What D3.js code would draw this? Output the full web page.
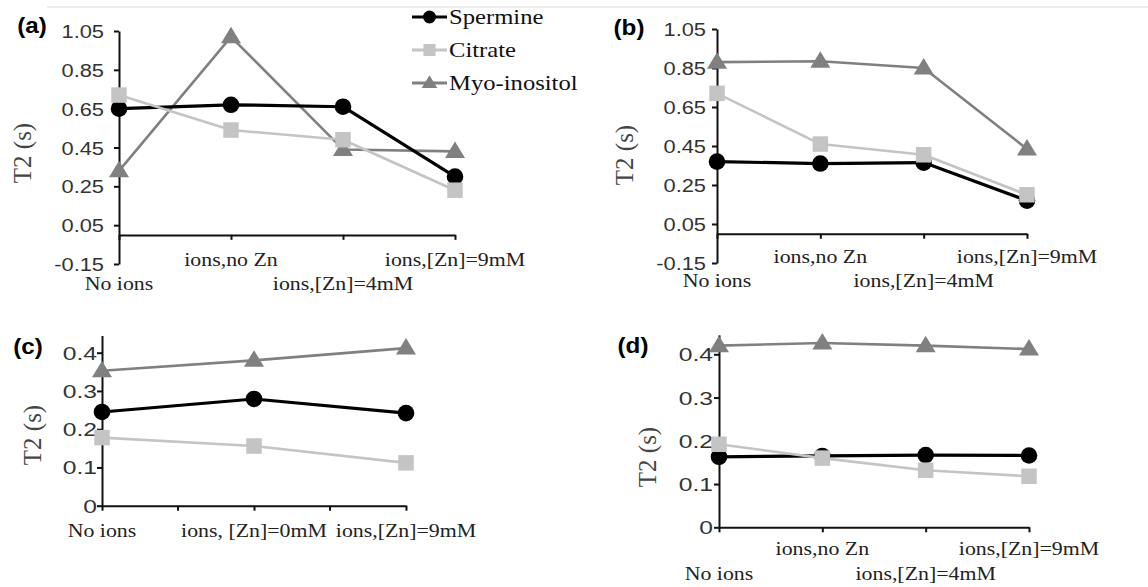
<!DOCTYPE html>
<html>
<head>
<meta charset="utf-8">
<script src="https://cdn.jsdelivr.net/npm/d3@7"></script>
<style>
  body { margin: 0; background: #fff; }
  svg { display: block; }
</style>
</head>
<body>
<svg id="chart" width="1148" height="587"></svg>
<script>
// categories
var categories4 = ["No ions", "ions,no Zn", "ions,[Zn]=4mM", "ions,[Zn]=9mM"];
var categories3 = ["No ions", "ions, [Zn]=0mM", "ions,[Zn]=9mM"];
var seriesNames = ["Spermine", "Citrate", "Myo-inositol"];

// panel (a)
var spermineA = [0.65, 0.67, 0.66, 0.30];
var citrateA = [0.72, 0.54, 0.49, 0.23];
var myoA = [0.33, 1.02, 0.44, 0.43];
// panel (b)
var spermineB = [0.37, 0.36, 0.365, 0.17];
var citrateB = [0.72, 0.46, 0.405, 0.20];
var myoB = [0.88, 0.885, 0.85, 0.435];
// panel (c)
var spermineC = [0.245, 0.279, 0.242];
var citrateC = [0.178, 0.156, 0.112];
var myoC = [0.353, 0.38, 0.412];
// panel (d)
var spermineD = [0.163, 0.165, 0.167, 0.166];
var citrateD = [0.192, 0.16, 0.132, 0.118];
var myoD = [0.42, 0.426, 0.42, 0.412];

// tick labels
var ticksAB = [-0.15, 0.05, 0.25, 0.45, 0.65, 0.85, 1.05];
var ticksCD = [0, 0.1, 0.2, 0.3, 0.4];

var styles = {
  "Spermine": { color: "#000", width: 3.2 },
  "Citrate": { color: "#c4c4c4", width: 2.6 },
  "Myo-inositol": { color: "#808080", width: 2.6 }
};
var drawOrder = [2, 0, 1];

var svg = d3.select("#chart");

// faint rule along the top
svg.append("line")
  .attr("x1", 47).attr("x2", 1148).attr("y1", 7).attr("y2", 7)
  .attr("stroke", "#e8e8e8").attr("stroke-width", 1.5);

function putText(g, str, x, y, sx, opts) {
  return g.append("text")
    .attr("transform", "translate(" + x + "," + y + ") scale(" + sx + ",1)")
    .attr("text-anchor", opts.anchor || "start")
    .attr("font-family", opts.family)
    .attr("font-size", opts.size)
    .attr("font-weight", opts.weight || "normal")
    .attr("fill", opts.fill || "#222")
    .text(str);
}

function marker(g, name, cx, cy, k) {
  k = k || 1;
  var c = styles[name].color;
  if (name === "Spermine") {
    g.append("circle").attr("cx", cx).attr("cy", cy).attr("r", 8.3 * k).attr("fill", c);
  } else if (name === "Citrate") {
    var s = 15.5 * k;
    g.append("rect").attr("x", cx - s / 2).attr("y", cy - s / 2)
      .attr("width", s).attr("height", s).attr("fill", c);
  } else {
    g.append("path")
      .attr("d", "M" + cx + "," + (cy - 10 * k) + "L" + (cx + 10 * k) + "," + (cy + 6.5 * k) +
                 "L" + (cx - 10 * k) + "," + (cy + 6.5 * k) + "Z")
      .attr("fill", c);
  }
}

function hyphen(f) {
  return function(v) { return f(v).replace("\u2212", "-"); };
}

var panels = [
  { tag: "(a)", tagX: 32, tagY: 33, cats: categories4, series: [spermineA, citrateA, myoA],
    x0: 119, x1: 455, yDom: [-0.15, 1.05], yRange: [264, 31], ticks: ticksAB, fmt: hyphen(d3.format(".2f")),
    tickRight: 104, tickSx: 1.15, rows: [290, 266], titleX: 23, titleY: 153, minor: false },
  { tag: "(b)", tagX: 629, tagY: 35, cats: categories4, series: [spermineB, citrateB, myoB],
    x0: 717, x1: 1027, yDom: [-0.15, 1.05], yRange: [263, 29], ticks: ticksAB, fmt: hyphen(d3.format(".2f")),
    tickRight: 706, tickSx: 1.15, rows: [287, 263], titleX: 625, titleY: 155, minor: false },
  { tag: "(c)", tagX: 28, tagY: 354, cats: categories3, series: [spermineC, citrateC, myoC],
    x0: 102, x1: 406, yDom: [0, 0.445], yRange: [505.7, 505.7 - 0.445 * 382.5], ticks: ticksCD, fmt: d3.format("~g"),
    tickRight: 97, tickSx: 1.3, rows: [537, 537], titleX: 33, titleY: 435, minor: true },
  { tag: "(d)", tagX: 633, tagY: 353, cats: categories4, series: [spermineD, citrateD, myoD],
    x0: 719, x1: 1029, yDom: [0, 0.445], yRange: [527.3, 527.3 - 0.445 * 432.5], ticks: ticksCD, fmt: d3.format("~g"),
    tickRight: 713, tickSx: 1.3, rows: [580, 555], titleX: 648, titleY: 457, minor: false }
];

panels.forEach(function(p) {
  var g = svg.append("g");
  var x = d3.scalePoint().domain(p.cats).range([p.x0, p.x1]);
  var y = d3.scaleLinear().domain(p.yDom).range(p.yRange);

  // y axis
  g.append("g")
    .attr("transform", "translate(" + p.x0 + ",0)")
    .style("color", "#111")
    .call(d3.axisLeft(y).tickValues(p.ticks).tickSize(5).tickSizeOuter(0).tickFormat(""))
    .call(function(a) { a.selectAll("path, line").attr("stroke-width", 2); });

  p.ticks.forEach(function(t) {
    putText(g, p.fmt(t), p.tickRight, y(t) + 7, p.tickSx,
      { anchor: "end", family: "Liberation Sans, Arial, sans-serif", size: 19, fill: "#333" });
  });

  // x axis at zero
  var xa = g.append("g")
    .attr("transform", "translate(0," + y(0) + ")")
    .style("color", "#111")
    .call(d3.axisBottom(x).tickSize(5).tickSizeOuter(0).tickFormat(""));
  if (p.minor) {
    d3.pairs(p.cats).forEach(function(pr) {
      var mx = (x(pr[0]) + x(pr[1])) / 2;
      xa.append("line").attr("x1", mx).attr("x2", mx).attr("y1", 0).attr("y2", 5)
        .attr("stroke", "currentColor");
    });
  }
  xa.selectAll("path, line").attr("stroke-width", 2);

  p.cats.forEach(function(c, i) {
    putText(g, c, x(c), p.rows[i % 2], 1.15,
      { anchor: "middle", family: "Liberation Serif, Times New Roman, serif", size: 19, fill: "#222" });
  });

  // axis title
  g.append("text")
    .attr("transform", "translate(" + (p.titleX + 8) + "," + p.titleY + ") rotate(-90)")
    .attr("text-anchor", "middle")
    .attr("font-family", "Liberation Serif, Times New Roman, serif")
    .attr("font-size", 25)
    .attr("fill", "#444")
    .text("T2 (s)");

  // panel tag
  putText(g, p.tag, p.tagX, p.tagY, 1.1,
    { anchor: "middle", family: "Liberation Sans, Arial, sans-serif", size: 22, weight: "bold", fill: "#000" });

  // series
  var line = d3.line()
    .x(function(d, i) { return x(p.cats[i]); })
    .y(function(d) { return y(d); });

  drawOrder.forEach(function(si) {
    var name = seriesNames[si];
    var vals = p.series[si];
    g.append("path")
      .datum(vals)
      .attr("d", line)
      .attr("fill", "none")
      .attr("stroke", styles[name].color)
      .attr("stroke-width", styles[name].width)
      .attr("stroke-linejoin", "round");
    vals.forEach(function(v, i) {
      marker(g, name, x(p.cats[i]), y(v));
    });
  });
});

// legend
var legend = svg.append("g");
var legendRows = [17, 50, 83];
seriesNames.forEach(function(name, i) {
  var ly = legendRows[i];
  legend.append("line")
    .attr("x1", 412).attr("x2", 447).attr("y1", ly).attr("y2", ly)
    .attr("stroke", styles[name].color).attr("stroke-width", 3);
  marker(legend, name, 429.5, ly, 0.78);
  putText(legend, name, 449, ly + 7, 1.12,
    { family: "Liberation Serif, Times New Roman, serif", size: 22, fill: "#111" });
});
</script>
</body>
</html>
